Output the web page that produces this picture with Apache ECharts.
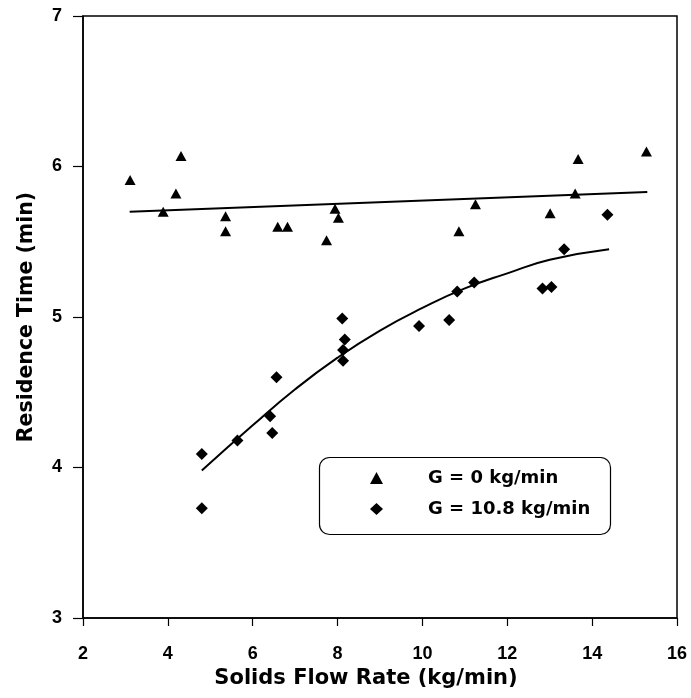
<!DOCTYPE html>
<html>
<head>
<meta charset="utf-8">
<script src="https://cdn.jsdelivr.net/npm/echarts@6/dist/echarts.min.js"></script>
<style>
  html, body { margin: 0; padding: 0; background: #fff; }
  #chart { width: 691px; height: 698px; }
</style>
</head>
<body>
<div id="chart"></div>
<script>
// Residence time vs. solids flow rate, two gas rates
const seriesNames = ['G = 0 kg/min', 'G = 10.8 kg/min'];

// G = 0 kg/min measurements: [flow rate, residence time]
const flowG0 = [3.11, 3.89, 4.19, 4.31, 5.36, 5.36, 6.59, 6.82, 7.74, 7.94, 8.02, 10.86, 11.25, 13.01, 13.60, 13.67, 15.28];
const timeG0 = [5.91, 5.70, 5.82, 6.07, 5.67, 5.57, 5.60, 5.60, 5.51, 5.72, 5.66, 5.57, 5.75, 5.69, 5.82, 6.05, 6.10];

// G = 10.8 kg/min measurements
const flowG108 = [4.80, 4.80, 5.64, 6.41, 6.46, 6.56, 8.11, 8.17, 8.13, 8.13, 9.92, 10.63, 10.82, 11.22, 12.83, 13.04, 13.34, 14.36];
const timeG108 = [4.09, 3.73, 4.18, 4.34, 4.23, 4.60, 4.99, 4.85, 4.78, 4.71, 4.94, 4.98, 5.17, 5.23, 5.19, 5.20, 5.45, 5.68];

// Trend lines
const fitG0X = [3.1, 15.3];
const fitG0Y = [5.70, 5.83];
const fitG108X = [4.8, 6, 7, 8, 9, 10, 11, 12, 13, 14.4];
const fitG108Y = [3.98, 4.28, 4.52, 4.73, 4.91, 5.06, 5.19, 5.29, 5.38, 5.45];

// Axis ranges / ticks
const xMin = 2, xMax = 16, xStep = 2;
const yMin = 3, yMax = 7, yStep = 1;

const zip = (xs, ys) => xs.map((x, i) => [x, ys[i]]);
const TICK_FONT = '"Liberation Sans", Arial, Helvetica, sans-serif';
const TITLE_FONT = '"DejaVu Sans", Verdana, sans-serif';

const chart = echarts.init(document.getElementById('chart'), null, { renderer: 'canvas' });

chart.setOption({
  backgroundColor: '#ffffff',
  animation: false,
  textStyle: { fontFamily: TICK_FONT, color: '#000' },
  grid: {
    left: 83, right: 14, top: 16, bottom: 80,
    show: true, borderColor: '#000', borderWidth: 1.5, backgroundColor: 'transparent'
  },
  xAxis: {
    type: 'value', min: xMin, max: xMax, interval: xStep,
    name: 'Solids Flow Rate (kg/min)', nameLocation: 'middle', nameGap: 49,
    nameTextStyle: { fontFamily: TITLE_FONT, fontWeight: 'bold', fontSize: 21, color: '#000', padding: [0, 28, 0, 0] },
    axisLine: { lineStyle: { color: '#000', width: 1.5 } },
    axisTick: { show: true, inside: false, length: 8, lineStyle: { color: '#000', width: 1.2 } },
    axisLabel: { fontFamily: TICK_FONT, fontWeight: 'bold', fontSize: 18, color: '#000', margin: 27 },
    splitLine: { show: false }
  },
  yAxis: {
    type: 'value', min: yMin, max: yMax, interval: yStep,
    name: 'Residence Time (min)', nameLocation: 'middle', nameGap: 46,
    nameTextStyle: { fontFamily: TITLE_FONT, fontWeight: 'bold', fontSize: 20.5, color: '#000' },
    axisLine: { lineStyle: { color: '#000', width: 1.5 } },
    axisTick: { show: true, inside: false, length: 10, lineStyle: { color: '#000', width: 1.2 } },
    axisLabel: { fontFamily: TICK_FONT, fontWeight: 'bold', fontSize: 18, color: '#000', margin: 21 },
    splitLine: { show: false }
  },
  legend: {
    data: [
      { name: seriesNames[0], icon: 'triangle', itemStyle: { color: '#000', opacity: 1 } },
      { name: seriesNames[1], icon: 'diamond', itemStyle: { color: '#000', opacity: 1 } }
    ],
    orient: 'vertical', left: 365, top: 464,
    itemWidth: 13, itemHeight: 12, itemGap: 13,
    textStyle: { fontFamily: TITLE_FONT, fontWeight: 'bold', fontSize: 18, color: '#000', padding: [0, 0, 0, 40] },
    selectedMode: false
  },
  graphic: [{
    type: 'rect', left: 317, top: 455, z: 10, silent: true,
    shape: { width: 291, height: 77, r: 10 },
    style: { fill: 'none', stroke: '#000', lineWidth: 1.2 }
  }],
  series: [
    {
      name: seriesNames[0], type: 'scatter', symbol: 'triangle', symbolSize: [11, 10],
      itemStyle: { color: '#000', opacity: 1 }, data: zip(flowG0, timeG0), z: 3
    },
    {
      name: seriesNames[1], type: 'scatter', symbol: 'diamond', symbolSize: 12,
      itemStyle: { color: '#000', opacity: 1 }, data: zip(flowG108, timeG108), z: 3
    },
    {
      name: 'fitG0', type: 'line', showSymbol: false, symbol: 'none',
      lineStyle: { color: '#000', width: 2 }, data: zip(fitG0X, fitG0Y), z: 2
    },
    {
      name: 'fitG108', type: 'line', showSymbol: false, symbol: 'none', smooth: true,
      lineStyle: { color: '#000', width: 2 }, data: zip(fitG108X, fitG108Y), z: 2
    }
  ]
});
</script>
</body>
</html>
